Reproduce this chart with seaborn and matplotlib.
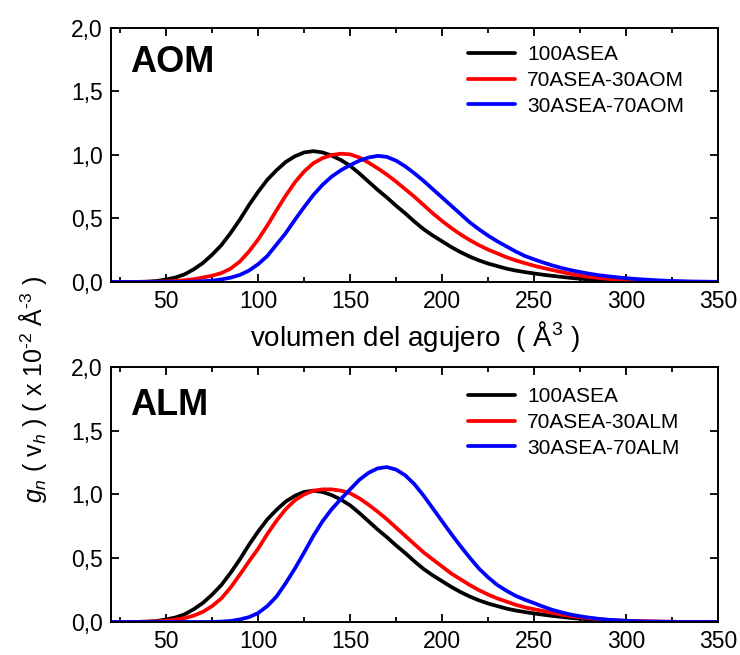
import numpy as np
import pandas as pd
import seaborn as sns
import matplotlib
matplotlib.use("Agg")
import matplotlib.pyplot as plt
from matplotlib.ticker import MultipleLocator, FuncFormatter

# volumen del agujero (A^3), read every 5 units from 20 to 350
vol = np.arange(20, 355, 5)

asea100 = [0, 0, 0, 0.001, 0.003, 0.008, 0.02, 0.035, 0.06, 0.1,
           0.15, 0.215, 0.29, 0.385, 0.49, 0.605, 0.71, 0.805, 0.88, 0.945,
           0.99, 1.02, 1.03, 1.02, 0.995, 0.96, 0.915, 0.855, 0.79, 0.725,
           0.665, 0.6, 0.54, 0.475, 0.415, 0.365, 0.32, 0.275, 0.235, 0.2,
           0.17, 0.145, 0.125, 0.105, 0.09, 0.078, 0.067, 0.057, 0.048, 0.04,
           0.032, 0.026, 0.02, 0.015, 0.011, 0.008, 0.006, 0.004, 0.003, 0.002,
           0.001, 0.001, 0, 0, 0, 0, 0]
aom30 = [0, 0, 0, 0, 0.001, 0.002, 0.004, 0.008, 0.014, 0.022,
         0.035, 0.05, 0.07, 0.105, 0.16, 0.24, 0.335, 0.445, 0.565, 0.68,
         0.785, 0.87, 0.935, 0.975, 1.0, 1.01, 1.005, 0.98, 0.94, 0.895,
         0.845, 0.79, 0.73, 0.67, 0.605, 0.54, 0.48, 0.425, 0.375, 0.33,
         0.29, 0.255, 0.225, 0.195, 0.17, 0.148, 0.128, 0.11, 0.094, 0.078,
         0.063, 0.05, 0.04, 0.032, 0.025, 0.02, 0.015, 0.011, 0.008, 0.006,
         0.004, 0.003, 0.002, 0.001, 0.001, 0, 0]
aom70 = [0, 0, 0, 0, 0, 0, 0, 0, 0.001, 0.003,
         0.006, 0.011, 0.02, 0.034, 0.055, 0.09, 0.14, 0.205, 0.295, 0.385,
         0.49, 0.59, 0.685, 0.765, 0.83, 0.88, 0.92, 0.955, 0.98, 0.993,
         0.985, 0.955, 0.91, 0.855, 0.795, 0.73, 0.665, 0.6, 0.535, 0.47,
         0.415, 0.365, 0.32, 0.28, 0.24, 0.205, 0.178, 0.153, 0.13, 0.11,
         0.093, 0.078, 0.065, 0.054, 0.045, 0.037, 0.03, 0.024, 0.019, 0.015,
         0.011, 0.008, 0.006, 0.004, 0.003, 0.002, 0.001]
alm30 = [0, 0, 0, 0.001, 0.002, 0.005, 0.01, 0.018, 0.03, 0.05,
         0.08, 0.125, 0.185, 0.27, 0.37, 0.475, 0.575, 0.69, 0.795, 0.885,
         0.955, 1.0, 1.03, 1.04, 1.04, 1.03, 1.01, 0.97, 0.92, 0.865,
         0.805, 0.74, 0.675, 0.61, 0.545, 0.49, 0.435, 0.38, 0.335, 0.29,
         0.25, 0.215, 0.185, 0.16, 0.135, 0.115, 0.1, 0.086, 0.072, 0.058,
         0.046, 0.037, 0.029, 0.022, 0.017, 0.013, 0.01, 0.007, 0.005, 0.004,
         0.003, 0.002, 0.001, 0.001, 0, 0, 0]
alm70 = [0, 0, 0, 0, 0, 0, 0, 0, 0, 0,
         0, 0.001, 0.003, 0.008, 0.02, 0.038, 0.07, 0.125, 0.2, 0.305,
         0.42, 0.545, 0.675, 0.79, 0.885, 0.965, 1.04, 1.115, 1.17, 1.205,
         1.215, 1.195, 1.15, 1.08, 0.99, 0.89, 0.79, 0.69, 0.595, 0.505,
         0.42, 0.35, 0.29, 0.245, 0.205, 0.175, 0.148, 0.12, 0.095, 0.075,
         0.058, 0.045, 0.034, 0.025, 0.018, 0.013, 0.009, 0.006, 0.004, 0.003,
         0.002, 0.001, 0, 0, 0, 0, 0]

panels = [
    ("AOM", ["100ASEA", "70ASEA-30AOM", "30ASEA-70AOM"], [asea100, aom30, aom70]),
    ("ALM", ["100ASEA", "70ASEA-30ALM", "30ASEA-70ALM"], [asea100, alm30, alm70]),
]
colores = ["black", "#ff0000", "#0000ff"]

sns.set_style("ticks")
plt.rcParams["font.family"] = ["Liberation Sans", "DejaVu Sans"]
plt.rcParams["mathtext.fontset"] = "custom"
plt.rcParams["mathtext.rm"] = "Liberation Sans"
plt.rcParams["mathtext.it"] = "Liberation Sans:italic"
for k in ["text.color", "axes.labelcolor", "xtick.color", "ytick.color",
          "axes.edgecolor"]:
    plt.rcParams[k] = "black"

fig = plt.figure(figsize=(7.4, 6.55), dpi=100)
ax_top = fig.add_axes([0.15, 0.5695, 0.8203, 0.3878])
ax_bot = fig.add_axes([0.15, 0.0504, 0.8203, 0.3893])

coma = FuncFormatter(lambda v, p: f"{v:.1f}".replace(".", ","))

for ax, (nombre, etiquetas, series), leg_y, lab_y in zip(
        [ax_top, ax_bot], panels, [0.932, 0.92], [0.866, 0.85]):
    df = pd.concat([pd.DataFrame({"v": vol, "g": s, "muestra": e})
                    for e, s in zip(etiquetas, series)])
    sns.lineplot(data=df, x="v", y="g", hue="muestra", palette=colores,
                 linewidth=2.7, ax=ax)
    ax.set_xlim(20, 350)
    ax.set_ylim(0, 2.0)
    ax.xaxis.set_major_locator(MultipleLocator(50))
    ax.xaxis.set_minor_locator(MultipleLocator(25))
    ax.yaxis.set_major_locator(MultipleLocator(0.5))
    ax.yaxis.set_major_formatter(coma)
    ax.tick_params(which="both", direction="in", top=True, right=True,
                   width=1.3, labelsize=16.5, pad=6)
    ax.tick_params(which="major", length=6)
    ax.tick_params(which="minor", length=3.5)
    for sp in ax.spines.values():
        sp.set_linewidth(1.4)
        sp.set_visible(True)
    ax.set_xlabel("")
    ax.set_ylabel("")
    ax.text(0.031, lab_y, nombre, transform=ax.transAxes, fontsize=26,
            fontweight="bold", va="center", ha="left")
    sns.move_legend(ax, "upper left", bbox_to_anchor=(0.588, leg_y),
                    title=None, frameon=False, fontsize=15, borderpad=0,
                    borderaxespad=0, handlelength=2.26, handletextpad=0.58,
                    labelspacing=0.32)

ax_top.set_xlabel("volumen del agujero  ( Å$^3$ )", fontsize=20, labelpad=4)
fig.text(0.045, 0.406, "$g_n$ ( v$_h$ ) ( x 10$^{\u20102}$ Å$^{\u20103}$ )",
         rotation=90, fontsize=18, ha="center", va="center")

fig.savefig("out.png", dpi=100)
